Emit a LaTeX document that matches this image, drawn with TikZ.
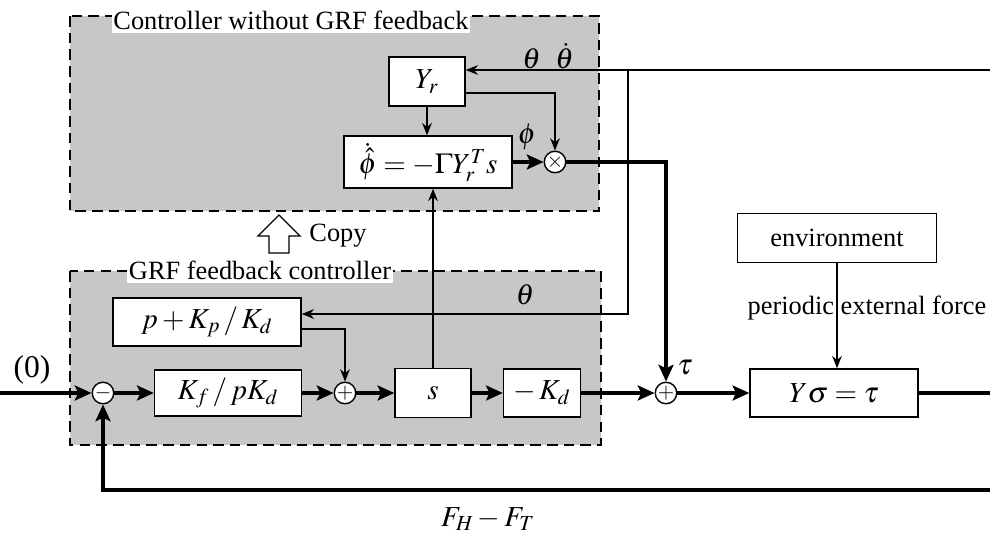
\documentclass[tikz,border=0pt]{standalone}
\usepackage{mathptmx}
\usepackage{fontspec}
\setmainfont{Liberation Serif}
\usetikzlibrary{arrows.meta}

\definecolor{ctrlGray}{gray}{0.78}

\tikzstyle{ctrlArea} = [draw=black, fill=ctrlGray, line width=1.5pt,
	dash pattern=on 6pt off 3.5pt]
\tikzstyle{areaTitle} = [fill=white, inner xsep=1pt, inner ysep=2pt,
	font=\fontsize{15}{17}\selectfont]
\tikzstyle{block} = [shape=rectangle, draw, line width=0.8pt, fill=white,
	inner sep=0pt, font=\fontsize{16.5}{19}\selectfont]
\tikzstyle{junction} = [shape=circle, draw, line width=0.8pt, fill=white,
	inner sep=0pt, minimum size=0.38cm, font=\fontsize{12}{12}\selectfont]
\tikzstyle{sigText} = [font=\fontsize{16.5}{19}\selectfont]
\tikzstyle{plainText} = [font=\fontsize{15}{17}\selectfont]
\tikzstyle{thinLine} = [line width=0.75pt]
\tikzstyle{thickLine} = [line width=2.7pt]
\tikzstyle{thinArrow} = [thinLine, -{Stealth[length=7pt, width=5.5pt]}]
\tikzstyle{thickArrow} = [thickLine, -{Stealth[length=9.5pt, width=8.5pt, inset=2pt]}]

\begin{document}
\begin{tikzpicture}
  \useasboundingbox (0,0) rectangle (19.8,10.7);

  % shaded controller areas
  \draw [ctrlArea] (1.40,10.38) rectangle (11.98,6.48);
  \draw [ctrlArea] (1.40,5.28) rectangle (12.02,1.80);
  \node (TOPTITLE) [areaTitle] at (5.82,10.30) {Controller without GRF feedback};
  \node (LOWTITLE) [areaTitle] at (5.20,5.30) {GRF feedback controller};

  % adaptive part
  \node (YR) [block, minimum width=1.52cm, minimum height=0.98cm] at (8.54,9.07) {$Y_r$};
  \node (PHI) [block, minimum width=3.36cm, minimum height=1.04cm] at (8.56,7.46)
    {$\dot{\hat{\phi}}=-\Gamma Y_r^T s$};
  \node (MULT) [junction] at (11.10,7.46) {$\times$};

  % GRF feedback part
  \node (SUB) [junction] at (2.06,2.84) {$-$};
  \node (KF) [block, minimum width=2.94cm, minimum height=0.92cm] at (4.56,2.84) {$K_f\,/\,pK_d$};
  \node (PK) [block, minimum width=3.76cm, minimum height=0.96cm] at (4.14,4.26) {$p+K_p\,/\,K_d$};
  \node (ADD) [junction] at (6.90,2.84) {$+$};
  \node (S) [block, minimum width=1.52cm, minimum height=0.98cm] at (8.66,2.84) {$s$};
  \node (KD) [block, minimum width=1.54cm, minimum height=0.96cm] at (10.84,2.84) {$-\,K_d$};

  % plant
  \node (TAU) [junction] at (13.32,2.84) {$+$};
  \node (PLANT) [block, minimum width=3.36cm, minimum height=0.96cm] at (16.68,2.84) {$Y\sigma=\tau$};
  \node (ENV) [block, plainText, minimum width=3.98cm, minimum height=0.98cm] at (16.74,5.94) {environment};

  \coordinate (INL) at (0,2.84);
  \coordinate (OUTR) at (19.8,2.84);
  \coordinate (FBR) at (19.8,0.90);
  \coordinate (STR) at (19.8,9.30);
  \coordinate (STC) at (12.56,9.30);
  \coordinate (THC) at (12.56,4.42);

  \draw [thinArrow] (STR) -- (STR -| YR.east);
  \draw [thinArrow] ([yshift=-0.23cm]YR.east) -| (MULT.north);
  \draw [thinArrow] (YR.south) -- (YR.south |- PHI.north);
  \draw [thickArrow] (PHI) -- (MULT);
  \draw [thinArrow] (STC) -- (THC) -- (THC -| PK.east);
  \draw [thinArrow] ([yshift=-0.14cm]PK.east) -| (ADD.north);
  \draw [thinArrow] (S.north) -- (S.north |- PHI.south);
  \draw [thickArrow] (INL) -- (SUB);
  \draw [thickArrow] (SUB) -- (KF);
  \draw [thickArrow] (KF) -- (ADD);
  \draw [thickArrow] (ADD) -- (S);
  \draw [thickArrow] (S) -- (KD);
  \draw [thickArrow] (KD) -- (TAU);
  \draw [thickArrow] (MULT.east) -| (TAU.north);
  \draw [thickArrow] (TAU) -- (PLANT);
  \draw [thickLine] (PLANT) -- (OUTR);
  \draw [thickArrow] (FBR) -| (SUB.south);
  \draw [thinArrow] (ENV.south) -- (ENV.south |- PLANT.north);

  % signal names
  \node (THTOP) [sigText] at (10.96,9.58) {$\theta\ \ \dot{\theta}$};
  \node (PHILBL) [sigText] at (10.54,7.96) {$\phi$};
  \node (THLOW) [sigText] at (10.50,4.80) {$\theta$};
  \node (TAULBL) [sigText] at (13.70,3.34) {$\tau$};
  \node (ZERO) [sigText, font=\fontsize{18}{20}\selectfont] at (0.64,3.30) {(0)};
  \node (FORCE) [plainText] at (17.34,4.54) {periodic external force};
  \node (FDIFF) [sigText] at (9.76,0.32) {$F_H-F_T$};

  % copy arrow
  \draw [thinLine, fill=white] (5.38,5.64) -- (5.38,5.98) -- (5.16,5.98) -- (5.58,6.40)
    -- (6.00,5.98) -- (5.78,5.98) -- (5.78,5.64) -- cycle;
  \node (COPY) [plainText] at (6.76,5.99) {Copy};

\end{tikzpicture}
\end{document}
